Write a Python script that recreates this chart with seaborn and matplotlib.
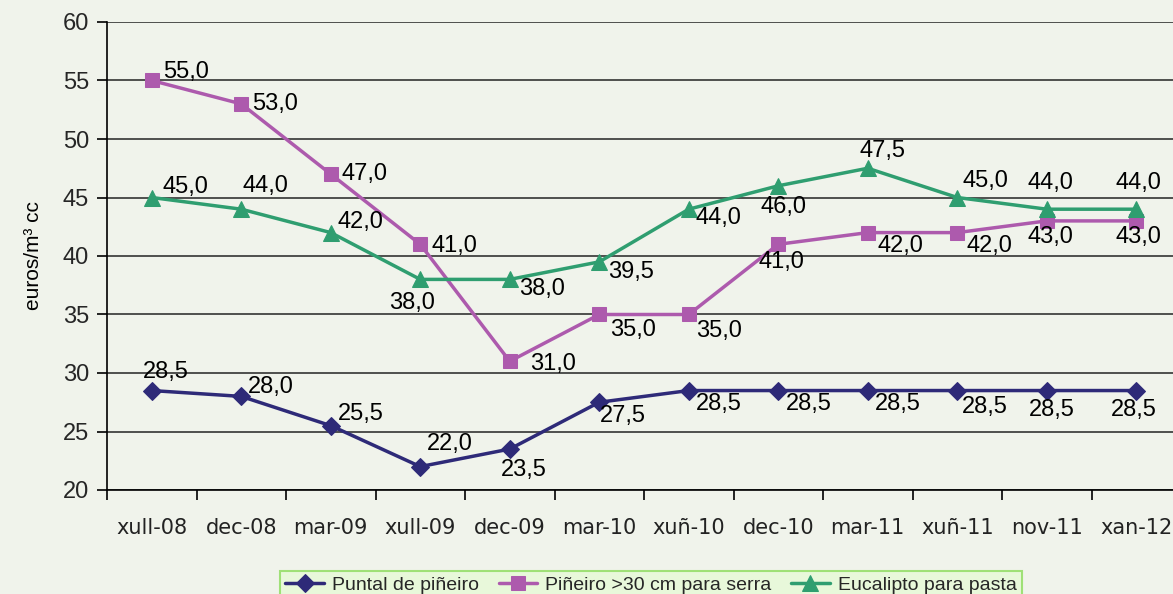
import matplotlib
matplotlib.use("Agg")
import matplotlib.pyplot as plt
import seaborn as sns
import pandas as pd

# datos
meses = ["xull-08", "dec-08", "mar-09", "xull-09", "dec-09", "mar-10",
         "xuñ-10", "dec-10", "mar-11", "xuñ-11", "nov-11", "xan-12"]
puntal = [28.5, 28.0, 25.5, 22.0, 23.5, 27.5, 28.5, 28.5, 28.5, 28.5, 28.5, 28.5]
pineiro = [55.0, 53.0, 47.0, 41.0, 31.0, 35.0, 35.0, 41.0, 42.0, 42.0, 43.0, 43.0]
eucalipto = [45.0, 44.0, 42.0, 38.0, 38.0, 39.5, 44.0, 46.0, 47.5, 45.0, 44.0, 44.0]
series = ["Puntal de piñeiro", "Piñeiro >30 cm para serra", "Eucalipto para pasta"]

# posicion das etiquetas (pixels)
off_puntal = [(14, 19), (30, 9), (30, 12), (30, 23), (14, -21), (24, -14),
              (30, -13), (31, -13), (30, -13), (28, -16), (5, -19), (-2, -19)]
off_pineiro = [(34, 8), (34, 0), (34, 0), (34, -2), (43, -3), (34, -16),
               (30, -17), (3, -18), (33, -13), (32, -13), (4, -16), (2, -16)]
off_euca = [(34, 11), (24, 23), (30, 11), (-8, -24), (32, -10), (32, -10),
            (30, -9), (5, -21), (15, 17), (28, 16), (4, 26), (2, 26)]

colores = ["#2e2a78", "#ad5aad", "#2f9e70"]
marcas = ["D", "s", "^"]
tamanos = [9, 10, 12]

df = pd.DataFrame({"mes": meses * 3,
                   "valor": puntal + pineiro + eucalipto,
                   "serie": [s for s in series for _ in meses]})
df["x"] = list(range(len(meses))) * 3

sns.set_style("white")
plt.rcParams["font.family"] = ["Liberation Sans", "DejaVu Sans"]
bg = "#f0f3eb"

fig = plt.figure(figsize=(11.73, 5.94), dpi=100, facecolor=bg)
ax = fig.add_axes([107 / 1173, 1 - 490 / 594, (1181 - 107) / 1173, (490 - 22) / 594])
ax.set_facecolor(bg)

for s, col, m, ms in zip(series, colores, marcas, tamanos):
    sub = df[df["serie"] == s]
    sns.lineplot(data=sub, x="x", y="valor", ax=ax, color=col, marker=m,
                 markersize=ms, markeredgecolor=col, linewidth=2.5, label=s)

for vals, offs in [(puntal, off_puntal), (pineiro, off_pineiro), (eucalipto, off_euca)]:
    for i, (v, o) in enumerate(zip(vals, offs)):
        ax.annotate(f"{v:.1f}".replace(".", ","), (i, v), xytext=o,
                    textcoords="offset pixels", ha="center", va="center",
                    fontsize=17, color="black")

ax.set_ylim(20, 60)
ax.set_yticks(range(20, 61, 5))
ax.set_xlim(-0.5, 11.5)
ax.set_xticks([i + 0.5 for i in range(-1, 12)], minor=False)
ax.set_xticklabels([])
ax.set_xticks(range(len(meses)), minor=True)
ax.set_xticklabels(meses, minor=True, family=["DejaVu Sans"], fontsize=15, color="#222222")
ax.tick_params(axis="x", which="major", bottom=True, length=7, width=1.2,
               direction="out", color="black")
ax.tick_params(axis="x", which="minor", bottom=True, length=0, pad=20)
ax.tick_params(axis="y", left=True, length=7, width=1.2, labelsize=17,
               color="black", pad=6)
ax.yaxis.grid(True, color="#333333", linewidth=1.2)
ax.set_axisbelow(True)
for sp in ["top", "right"]:
    ax.spines[sp].set_visible(False)
for sp in ["left", "bottom"]:
    ax.spines[sp].set_color("black")
    ax.spines[sp].set_linewidth(1.2)

ax.set_xlabel("")
ax.set_ylabel("euros/m³ cc", fontsize=15, labelpad=14, color="black")

h, l = ax.get_legend_handles_labels()
ax.get_legend().remove()
leg = fig.legend(h, l, loc="upper center", bbox_to_anchor=(651 / 1173, 1 - 561 / 594),
                 ncol=3, frameon=True, fancybox=False,
                 prop={"family": ["Liberation Sans Narrow", "Liberation Sans"], "size": 14},
                 handlelength=2.0, columnspacing=1.0, borderpad=0.3, handletextpad=0.4)
leg.get_frame().set_facecolor("#e6fad6")
leg.get_frame().set_edgecolor("#8cdc5c")
leg.get_frame().set_linewidth(1.5)

fig.savefig("out.png", dpi=100, facecolor=bg)
